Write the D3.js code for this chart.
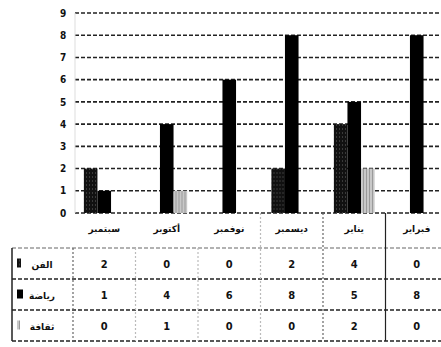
<!DOCTYPE html>
<html>
<head>
<meta charset="utf-8">
<script src="https://cdn.jsdelivr.net/npm/d3@7"></script>
<style>
  html, body { margin: 0; padding: 0; background: #fff; }
  svg { display: block; }
</style>
</head>
<body>
<div id="chart"></div>
<script>
// categories (months) and series
const months = ["سبتمبر", "أكتوبر", "نوفمبر", "ديسمبر", "يناير", "فبراير"];
const seriesNames = ["الفن", "رياضة", "ثقافة"];
const artValues = [2, 0, 0, 2, 4, 0];
const sportValues = [1, 4, 6, 8, 5, 8];
const cultureValues = [0, 1, 0, 0, 2, 0];
const yTicks = [0, 1, 2, 3, 4, 5, 6, 7, 8, 9];

const seriesValues = [artValues, sportValues, cultureValues];

const width = 441, height = 347;
const plot = { left: 75, right: 448, top: 13, bottom: 213 };
const table = { left: 12, top: 248, rowH: 31 };

const svg = d3.select("#chart").append("svg")
  .attr("width", width)
  .attr("height", height);

// textures for the scanned-looking fills
const defs = svg.append("defs");
const pDark = defs.append("pattern")
  .attr("id", "pDark").attr("width", 3).attr("height", 4)
  .attr("patternUnits", "userSpaceOnUse");
pDark.append("rect").attr("width", 3).attr("height", 4).attr("fill", "#111");
pDark.append("rect").attr("x", 1).attr("width", 1).attr("height", 2).attr("fill", "#3a3a3a");

const pLight = defs.append("pattern")
  .attr("id", "pLight").attr("width", 3).attr("height", 4)
  .attr("patternUnits", "userSpaceOnUse");
pLight.append("rect").attr("width", 3).attr("height", 4).attr("fill", "#c8c8c8");
pLight.append("rect").attr("x", 1).attr("width", 1).attr("height", 4).attr("fill", "#9a9a9a");

const fills = ["url(#pDark)", "#000", "url(#pLight)"];

const x = d3.scaleBand()
  .domain(months)
  .range([plot.left - 2, plot.right]);

const x1 = d3.scaleBand()
  .domain(seriesNames)
  .range([0, x.bandwidth()])
  .paddingOuter(0.8);

const y = d3.scaleLinear()
  .domain([0, 9])
  .range([plot.bottom, plot.top]);

// gridlines
svg.append("g")
  .selectAll("line")
  .data(yTicks)
  .join("line")
  .attr("x1", plot.left)
  .attr("x2", width)
  .attr("y1", d => y(d))
  .attr("y2", d => y(d))
  .attr("stroke", "#222")
  .attr("stroke-width", 1.6)
  .attr("stroke-dasharray", "4,2");

// faint plot edge
svg.append("line")
  .attr("x1", plot.left).attr("x2", plot.left)
  .attr("y1", plot.top).attr("y2", plot.bottom)
  .attr("stroke", "#ddd");

// y axis labels
const yAxis = svg.append("g")
  .attr("transform", `translate(${plot.left - 9},0)`)
  .call(d3.axisLeft(y).tickValues(yTicks).tickSize(0).tickPadding(0).tickFormat(d3.format("d")));
yAxis.select(".domain").remove();
yAxis.selectAll("text")
  .attr("text-anchor", "middle")
  .attr("dx", "-3")
  .style("font-family", "'DejaVu Sans Condensed', 'DejaVu Sans', sans-serif")
  .style("font-weight", "bold")
  .style("font-size", "10px")
  .attr("fill", "#111");

// bars
const groups = svg.append("g")
  .selectAll("g")
  .data(months)
  .join("g")
  .attr("transform", d => `translate(${x(d)},0)`);

groups.selectAll("rect")
  .data((m, i) => seriesNames.map((s, k) => ({ s, k, v: seriesValues[k][i] })))
  .join("rect")
  .attr("x", d => x1(d.s))
  .attr("width", x1.bandwidth())
  .attr("y", d => y(d.v))
  .attr("height", d => y(0) - y(d.v))
  .attr("fill", d => fills[d.k]);

// category labels
svg.append("g")
  .selectAll("text")
  .data(months)
  .join("text")
  .attr("x", d => x(d) + x.bandwidth() / 2)
  .attr("y", 232)
  .attr("text-anchor", "middle")
  .style("font-family", "'DejaVu Sans', sans-serif")
  .style("font-size", "9px")
  .style("font-weight", "bold")
  .attr("fill", "#111")
  .text(d => d);

// data table
const tableBottom = table.top + table.rowH * 3;
const hLines = [0, 1, 2, 3].map(i => table.top + i * table.rowH);

svg.append("g")
  .selectAll("line")
  .data(hLines)
  .join("line")
  .attr("x1", table.left)
  .attr("x2", width)
  .attr("y1", d => d)
  .attr("y2", d => d)
  .attr("stroke", (d, i) => (i === 0 ? "#999" : "#222"))
  .attr("stroke-width", 1.5)
  .attr("stroke-dasharray", "4,2");

svg.append("line")
  .attr("x1", table.left).attr("x2", table.left)
  .attr("y1", table.top).attr("y2", tableBottom)
  .attr("stroke", "#222")
  .attr("stroke-width", 1.5);

// column separators
svg.append("g")
  .selectAll("line")
  .data(months)
  .join("line")
  .attr("x1", d => x(d))
  .attr("x2", d => x(d))
  .attr("y1", (d, i) => (i < 3 ? table.top : plot.bottom))
  .attr("y2", tableBottom)
  .attr("stroke", (d, i) => (i === 5 ? "#222" : i === 0 || i === 4 ? "#666" : "#bbb"))
  .attr("stroke-width", 1.2)
  .attr("stroke-dasharray", (d, i) => (i === 5 ? null : "2,2"));

// row headers: legend key + series name
const rows = svg.append("g")
  .selectAll("g")
  .data(seriesNames)
  .join("g")
  .attr("transform", (d, i) => `translate(0,${table.top + i * table.rowH + table.rowH / 2})`);

rows.append("rect")
  .attr("x", 17)
  .attr("y", -5)
  .attr("width", (d, i) => [4, 6, 3][i])
  .attr("height", 9)
  .attr("fill", (d, i) => fills[i]);

rows.append("text")
  .attr("x", 42)
  .attr("y", 4)
  .attr("text-anchor", "middle")
  .style("font-family", "'DejaVu Sans', sans-serif")
  .style("font-size", "9px")
  .style("font-weight", "bold")
  .attr("fill", "#111")
  .text(d => d);

// values
rows.selectAll(".val")
  .data((s, k) => months.map((m, i) => ({ m, v: seriesValues[k][i] })))
  .join("text")
  .attr("class", "val")
  .attr("x", d => x(d.m) + x.bandwidth() / 2)
  .attr("y", 4)
  .attr("text-anchor", "middle")
  .style("font-family", "'DejaVu Sans Condensed', 'DejaVu Sans', sans-serif")
  .style("font-size", "11px")
  .style("font-weight", "bold")
  .attr("fill", "#111")
  .text(d => d.v);
</script>
</body>
</html>
